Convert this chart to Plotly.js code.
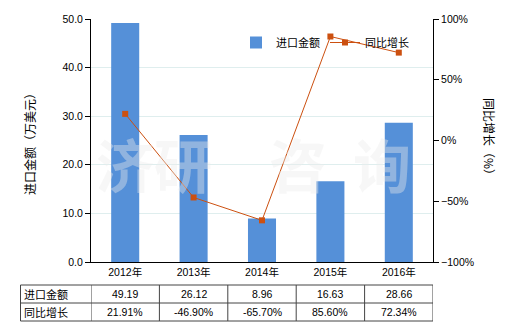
<!DOCTYPE html>
<html>
<head>
<meta charset="utf-8">
<script src="https://cdn.plot.ly/plotly-3.0.1.min.js"></script>
<style>html,body{margin:0;padding:0;background:#fff;}#chart{width:520px;height:330px;}</style>
</head>
<body>
<div id="chart"></div>
<script>
const years = ['2012年', '2013年', '2014年', '2015年', '2016年'];
const importValue = [49.19, 26.12, 8.96, 16.63, 28.66];
const yoyGrowth = [21.91, -46.90, -65.70, 85.60, 72.34];
const importLabels = ['49.19', '26.12', '8.96', '16.63', '28.66'];
const growthLabels = ['21.91%', '-46.90%', '-65.70%', '85.60%', '72.34%'];
const seriesNames = ['进口金额', '同比增长'];
const watermarkChars = ['济', '研', '咨', '询'];

const FONT = 'Liberation Sans, Noto Sans CJK SC, sans-serif';
const CJK = 'Noto Sans CJK SC, sans-serif';

const H = 243, W = 342, L = 91, B = 262;
const py = yy => (B - yy) / H;
const px = xx => (xx - L) / W;

const traces = [
  {
    type: 'bar', x: years, y: importValue, name: seriesNames[0],
    marker: {color: '#5590d8'}, width: 0.41, yaxis: 'y'
  },
  {
    type: 'scatter', mode: 'lines+markers', x: years, y: yoyGrowth, name: seriesNames[1],
    yaxis: 'y2', line: {color: '#cc5010', width: 1},
    marker: {symbol: 'square', size: 6, color: '#cc5010'}
  }
];

const shapes = [];
const annotations = [];
const tTop = py(285), tMid = py(303), tBot = py(321);
[tTop, tMid, tBot].forEach(v => shapes.push({type: 'line', xref: 'paper', yref: 'paper', x0: px(20.5), x1: 1, y0: v, y1: v, line: {color: '#444', width: 1}}));
shapes.push({type: 'line', xref: 'paper', yref: 'paper', x0: px(20.5), x1: px(20.5), y0: tTop, y1: tBot, line: {color: '#444', width: 1}});
for (let i = 0; i <= years.length; i++) {
  shapes.push({type: 'line', xref: 'x', yref: 'paper', x0: i - 0.5, x1: i - 0.5, y0: tTop, y1: tBot, line: {color: '#444', width: 1}});
}
annotations.push({xref: 'paper', yref: 'paper', x: px(22), y: (tTop + tMid) / 2, xanchor: 'left', yanchor: 'middle', text: seriesNames[0], showarrow: false, font: {family: CJK, size: 11, color: '#000'}});
annotations.push({xref: 'paper', yref: 'paper', x: px(22), y: (tMid + tBot) / 2, xanchor: 'left', yanchor: 'middle', text: seriesNames[1], showarrow: false, font: {family: CJK, size: 11, color: '#000'}});
years.forEach((yr, i) => {
  annotations.push({xref: 'x', yref: 'paper', x: yr, y: (tTop + tMid) / 2, xanchor: 'center', yanchor: 'middle', text: importLabels[i], showarrow: false, font: {family: FONT, size: 10.5, color: '#000'}});
  annotations.push({xref: 'x', yref: 'paper', x: yr, y: (tMid + tBot) / 2, xanchor: 'center', yanchor: 'middle', text: growthLabels[i], showarrow: false, font: {family: FONT, size: 10.5, color: '#000'}});
});
// axis titles
annotations.push({xref: 'paper', yref: 'paper', x: px(29), y: py(141), xanchor: 'center', yanchor: 'middle', text: '进口金额（万美元）', textangle: -90, showarrow: false, font: {family: CJK, size: 12, color: '#000'}});
annotations.push({xref: 'paper', yref: 'paper', x: px(490), y: py(139), xanchor: 'center', yanchor: 'middle', text: '同比增长（%）', textangle: 90, showarrow: false, font: {family: CJK, size: 12, color: '#000'}});
// watermark
const wmX = [125, 183, 298, 382];
watermarkChars.forEach((c, i) => annotations.push({xref: 'paper', yref: 'paper', x: px(wmX[i]), y: py(163), xanchor: 'center', yanchor: 'middle', text: '<b>' + c + '</b>', showarrow: false, font: {family: CJK, size: 58, color: 'rgba(236,236,236,0.4)'}}));

const layout = {
  width: 520, height: 330,
  margin: {l: 91, r: 87, t: 19, b: 68},
  paper_bgcolor: '#fff', plot_bgcolor: '#fff',
  showlegend: true,
  legend: {orientation: 'h', x: px(236), y: py(28), xanchor: 'left', yanchor: 'top', font: {family: CJK, size: 11, color: '#000'}, bgcolor: 'rgba(0,0,0,0)', itemwidth: 30},
  xaxis: {type: 'category', range: [-0.5, 4.5], showline: true, linecolor: '#000', linewidth: 1, ticks: '', tickfont: {family: FONT, size: 10.5, color: '#000'}, showgrid: false, fixedrange: true},
  yaxis: {range: [0, 50], dtick: 10, tickformat: '.1f', showline: true, linecolor: '#000', linewidth: 1, ticks: 'outside', ticklen: 5, tickcolor: '#000', gridcolor: '#dfeeee', tickfont: {family: FONT, size: 10.5, color: '#000'}, zeroline: false},
  yaxis2: {range: [-100, 100], dtick: 50, ticksuffix: '%', overlaying: 'y', side: 'right', showline: true, linecolor: '#000', linewidth: 1, ticks: 'outside', ticklen: 5, tickcolor: '#000', showgrid: false, zeroline: false, tickfont: {family: FONT, size: 10.5, color: '#000'}},
  shapes: shapes,
  annotations: annotations
};

Plotly.newPlot('chart', traces, layout, {staticPlot: true, displayModeBar: false});
</script>
</body>
</html>
